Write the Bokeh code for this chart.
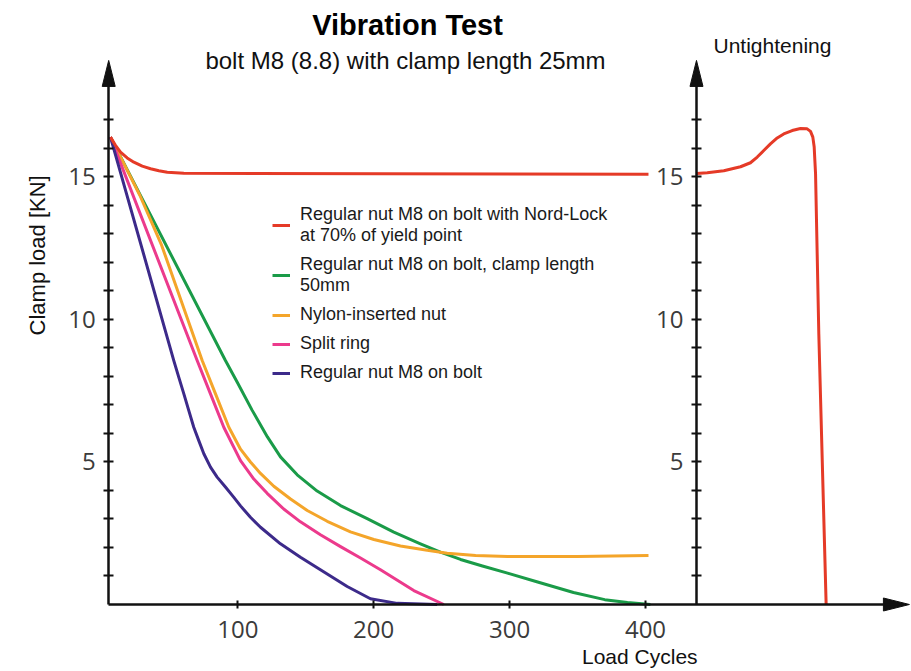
import math
from bokeh.plotting import figure
from bokeh.models import Range1d, LinearAxis, FixedTicker, Legend, LegendItem, Label
from bokeh.embed import file_html
from bokeh.resources import INLINE

# ---------------- data ----------------
# Vibration test: clamp load [kN] against load cycles
red_x = [6.3, 10.0, 13.7, 18.6, 23.5, 29.7, 35.8, 41.9, 48.1, 54.2, 60.3, 402.2]
red_y = [16.4, 16.11, 15.87, 15.67, 15.52, 15.38, 15.29, 15.22, 15.17, 15.15, 15.13, 15.1]

green_x = [6.3, 90.9, 99.6, 110.5, 121.8, 131.4, 143.7, 158.4, 175.6, 195.2, 214.8, 234.4,
           249.1, 263.9, 280.0, 298.5, 320.0, 347.0, 370.0, 386.7, 403.6]
green_y = [16.4, 8.56, 7.80, 6.82, 5.88, 5.18, 4.55, 3.98, 3.47, 3.01, 2.54, 2.13,
           1.84, 1.58, 1.35, 1.10, 0.80, 0.42, 0.17, 0.07, 0.0]

orange_x = [6.3, 28.0, 44.0, 73.8, 83.6, 93.4, 102.0, 109.3, 116.7, 126.5, 138.8, 151.1, 165.8,
            182.9, 200.1, 219.7, 239.4, 254.1, 275.0, 298.5, 350.0, 402.2]
orange_y = [16.4, 14.35, 12.6, 8.56, 7.39, 6.22, 5.45, 5.00, 4.60, 4.15, 3.70, 3.30, 2.92,
            2.55, 2.28, 2.05, 1.90, 1.80, 1.72, 1.68, 1.68, 1.72]

pink_x = [6.3, 70.1, 79.9, 89.7, 102.0, 111.8, 121.6, 133.8, 146.1, 160.8, 175.6, 190.3, 205.0, 229.5, 251.6]
pink_y = [16.4, 8.56, 7.39, 6.22, 5.05, 4.40, 3.90, 3.35, 2.90, 2.45, 2.03, 1.63, 1.22, 0.49, 0.0]

blue_x = [6.3, 52.9, 56.6, 60.3, 63.9, 67.6, 71.3, 75.0, 79.9, 84.8, 90.9, 97.1, 102.0, 109.3,
          116.7, 131.4, 146.1, 160.8, 180.5, 197.6, 217.3, 246.7]
blue_y = [16.4, 8.56, 7.97, 7.39, 6.81, 6.22, 5.75, 5.29, 4.82, 4.47, 4.12, 3.76, 3.46, 3.06,
          2.71, 2.13, 1.66, 1.22, 0.63, 0.20, 0.04, 0.0]

# Untightening panel (own horizontal scale)
untight_x = [0, 7.9, 20.1, 32.4, 39.7, 44.7, 49.5, 54.4, 59.4, 64.2, 70.4, 76.5, 81.4, 83.9,
             85.6, 86.6, 87.1, 87.6, 90.0, 95.4]
untight_y = [15.12, 15.15, 15.22, 15.36, 15.50, 15.70, 15.93, 16.16, 16.37, 16.51, 16.63, 16.70,
             16.69, 16.60, 16.40, 16.05, 15.58, 15.12, 9.5, 0.0]

labels = [
    "Regular nut M8 on bolt with Nord-Lock\nat 70% of yield point",
    "Regular nut M8 on bolt, clamp length\n50mm",
    "Nylon-inserted nut",
    "Split ring",
    "Regular nut M8 on bolt",
]
colors = ["#e53a27", "#1a9b48", "#f4a52a", "#ec3a8c", "#3c2a8a"]

y_ticks = [5, 10, 15]
y_minor = [1, 2, 3, 4, 6, 7, 8, 9, 11, 12, 13, 14, 16, 17]
x_ticks = [100, 200, 300, 400]

# ---------------- layout ----------------
W, H = 910, 670
X0, X1 = -74.61, 594.99
Y0, Y1 = -2.316, 21.193
U0, U1 = -512.14, 157.47
AX_X = 5          # cycles position of the left vertical axis
AX_TOP = 19.09    # top of the vertical axes (arrow tip)

p = figure(width=W, height=H, x_range=Range1d(X0, X1), y_range=Range1d(Y0, Y1),
           output_backend="svg", toolbar_location=None, min_border=0,
           x_axis_location=None, y_axis_location=None)
p.extra_x_ranges = {"untight": Range1d(U0, U1)}
p.outline_line_color = None
p.background_fill_color = "white"
for g in p.grid:
    g.visible = False

AXC = "#111111"
TICK_FONT = "Open Sans"


def style(ax, tick_in, tick_out, standoff):
    ax.axis_line_width = 2.5
    ax.axis_line_color = AXC
    ax.major_tick_line_width = 2
    ax.major_tick_line_color = AXC
    ax.minor_tick_line_width = 2
    ax.minor_tick_line_color = AXC
    ax.major_tick_in = tick_in
    ax.major_tick_out = tick_out
    ax.minor_tick_in = tick_in
    ax.minor_tick_out = tick_out
    ax.major_label_text_font = TICK_FONT
    ax.major_label_text_font_size = "24px"
    ax.major_label_text_color = "#3b3b3b"
    ax.major_label_standoff = standoff


yl = LinearAxis(fixed_location=AX_X, bounds=(0, 18.6),
                ticker=FixedTicker(ticks=y_ticks, minor_ticks=y_minor))
style(yl, 5, 5, 8)
p.add_layout(yl, "left")

yr = LinearAxis(x_range_name="untight", fixed_location=0, bounds=(0, 18.6),
                ticker=FixedTicker(ticks=y_ticks, minor_ticks=y_minor))
style(yr, 5, 5, 8)
p.add_layout(yr, "left")

xa = LinearAxis(fixed_location=0, bounds=(AX_X, X1 - 8),
                ticker=FixedTicker(ticks=x_ticks, minor_ticks=[]))
style(xa, 4, 4, 13)
p.add_layout(xa, "below")

# arrow heads (sizes in pixels converted to data units)
ppx = W / (X1 - X0)
ppy = H / (Y1 - Y0)
ppu = W / (U1 - U0)
HL, HW = 26, 6.5
p.patch([AX_X - HW / ppx, AX_X, AX_X + HW / ppx],
        [AX_TOP - HL / ppy, AX_TOP, AX_TOP - HL / ppy], color=AXC)
p.patch([-HW / ppu, 0, HW / ppu],
        [AX_TOP - HL / ppy, AX_TOP, AX_TOP - HL / ppy], color=AXC, x_range_name="untight")
tip = X1 - 0.8
p.patch([tip - HL / ppx, tip, tip - HL / ppx], [HW / ppy, 0, -HW / ppy], color=AXC)

# ---------------- series ----------------
series = [(red_x, red_y), (green_x, green_y), (orange_x, orange_y), (pink_x, pink_y), (blue_x, blue_y)]
rends = []
for (xs, ys), c in zip(series, colors):
    rends.append(p.line(xs, ys, line_color=c, line_width=3, line_join="round"))
# keep red on top
p.renderers.remove(rends[0])
p.renderers.append(rends[0])

r_un = p.line(untight_x, untight_y, line_color=colors[0], line_width=3, line_join="round",
              x_range_name="untight")

legend = Legend(items=[LegendItem(label=l, renderers=[r]) for l, r in zip(labels, rends)],
                location=(272, 287), padding=0, margin=0, spacing=8,
                glyph_width=18, glyph_height=20, label_standoff=10,
                label_text_font="Liberation Sans", label_text_font_size="18px",
                label_text_color="#1a1a1a", background_fill_alpha=0, border_line_alpha=0)
p.add_layout(legend)

# ---------------- texts ----------------
p.add_layout(Label(x=224.9, y=20.32, text="Vibration Test", text_font="Liberation Sans",
                   text_font_style="bold", text_font_size="29px", text_color="#000000",
                   text_align="center", text_baseline="middle"))
p.add_layout(Label(x=223.4, y=19.09, text="bolt M8 (8.8) with clamp length 25mm",
                   text_font="Liberation Sans", text_font_size="24px", text_color="#111111",
                   text_align="center", text_baseline="middle"))
p.add_layout(Label(x=55.9, y=19.61, x_range_name="untight", text="Untightening",
                   text_font="Liberation Sans", text_font_size="21px", text_color="#111111",
                   text_align="center", text_baseline="middle"))
p.add_layout(Label(x=-47.4, y=12.25, text="Clamp load [KN]", angle=math.pi / 2,
                   text_font="Liberation Sans", text_font_size="22px", text_color="#111111",
                   text_align="center", text_baseline="middle"))
p.add_layout(Label(x=395.8, y=-1.825, text="Load Cycles",
                   text_font="Liberation Sans", text_font_size="21px", text_color="#111111",
                   text_align="center", text_baseline="middle"))

open("out.html", "w").write(file_html(p, INLINE))
